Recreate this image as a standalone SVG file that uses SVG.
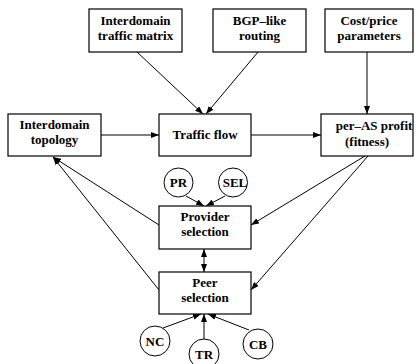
<svg xmlns="http://www.w3.org/2000/svg" width="416" height="364" viewBox="0 0 416 364">
<style>
.box{fill:#fff;stroke:#000;stroke-width:1.2}
.circ{fill:#fff;stroke:#000;stroke-width:1}
.t{font-family:"Liberation Serif","Times New Roman",serif;font-weight:bold;font-size:13px;text-anchor:middle;fill:#000}
.c{stroke:#000;stroke-width:1;fill:none}
</style>
<defs>
<marker id="ah" markerWidth="8" markerHeight="6" refX="8" refY="3" orient="auto" markerUnits="userSpaceOnUse">
<path d="M0,0 L8,3 L0,6 z" fill="#000"/>
</marker>
<marker id="as" markerWidth="8" markerHeight="6" refX="0" refY="3" orient="auto" markerUnits="userSpaceOnUse">
<path d="M8,0 L0,3 L8,6 z" fill="#000"/>
</marker>
</defs>
<g id="connectors">
<line class="c" x1="137" y1="52" x2="203" y2="114" marker-end="url(#ah)"/>
<line class="c" x1="258" y1="52" x2="206" y2="114" marker-end="url(#ah)"/>
<line class="c" x1="367" y1="52" x2="367" y2="114" marker-end="url(#ah)"/>
<line class="c" x1="101" y1="135" x2="159" y2="135" marker-end="url(#ah)"/>
<line class="c" x1="251" y1="135" x2="321" y2="135" marker-end="url(#ah)"/>
<line class="c" x1="365" y1="156" x2="251" y2="225" marker-end="url(#ah)"/>
<line class="c" x1="368" y1="156" x2="251" y2="290" marker-end="url(#ah)"/>
<line class="c" x1="159" y1="225" x2="53" y2="157" marker-end="url(#ah)"/>
<line class="c" x1="159" y1="290" x2="53" y2="157" marker-end="url(#ah)"/>
<line class="c" x1="204" y1="249" x2="204" y2="272" marker-start="url(#as)" marker-end="url(#ah)"/>
<line class="c" x1="186" y1="196" x2="204" y2="206" marker-end="url(#ah)"/>
<line class="c" x1="225" y1="196" x2="206" y2="206" marker-end="url(#ah)"/>
<line class="c" x1="163" y1="328" x2="201" y2="314" marker-end="url(#ah)"/>
<line class="c" x1="204" y1="339" x2="204" y2="314" marker-end="url(#ah)"/>
<line class="c" x1="249" y1="330" x2="208" y2="314" marker-end="url(#ah)"/>
</g>
<g id="traffic-matrix">
<rect class="box" x="89" y="9" width="93" height="43"/>
<text class="t" x="135.5" y="25">Interdomain</text>
<text class="t" x="135.5" y="40">traffic matrix</text>
</g>
<g id="bgp-routing">
<rect class="box" x="213" y="9" width="93" height="43"/>
<text class="t" x="259.5" y="25">BGP–like</text>
<text class="t" x="259.5" y="40">routing</text>
</g>
<g id="cost-price">
<rect class="box" x="325" y="9" width="88" height="43"/>
<text class="t" x="369" y="25">Cost/price</text>
<text class="t" x="369" y="40">parameters</text>
</g>
<g id="topology">
<rect class="box" x="8" y="114" width="93" height="42"/>
<text class="t" x="54.5" y="129">Interdomain</text>
<text class="t" x="54.5" y="144">topology</text>
</g>
<g id="traffic-flow">
<rect class="box" x="159" y="114" width="92" height="42"/>
<text class="t" x="205" y="139">Traffic flow</text>
</g>
<g id="profit">
<rect class="box" x="321" y="114" width="92" height="42"/>
<text class="t" x="374" y="130">per–AS profit</text>
<text class="t" x="367" y="146">(fitness)</text>
</g>
<g id="provider">
<rect class="box" x="159" y="206" width="92" height="43"/>
<text class="t" x="205" y="221">Provider</text>
<text class="t" x="205" y="236">selection</text>
</g>
<g id="peer">
<rect class="box" x="159" y="272" width="92" height="42"/>
<text class="t" x="205" y="287">Peer</text>
<text class="t" x="205" y="302">selection</text>
</g>
<g id="pr">
<circle class="circ" cx="178.5" cy="182.5" r="14.5"/>
<text class="t" x="178.5" y="187">PR</text>
</g>
<g id="sel">
<circle class="circ" cx="233" cy="182.5" r="14.5"/>
<text class="t" x="235" y="187">SEL</text>
</g>
<g id="nc">
<circle class="circ" cx="155" cy="341" r="15"/>
<text class="t" x="155" y="346">NC</text>
</g>
<g id="tr">
<circle class="circ" cx="204" cy="354" r="15"/>
<text class="t" x="204" y="359">TR</text>
</g>
<g id="cb">
<circle class="circ" cx="258" cy="344" r="15"/>
<text class="t" x="258" y="349">CB</text>
</g>
</svg>
